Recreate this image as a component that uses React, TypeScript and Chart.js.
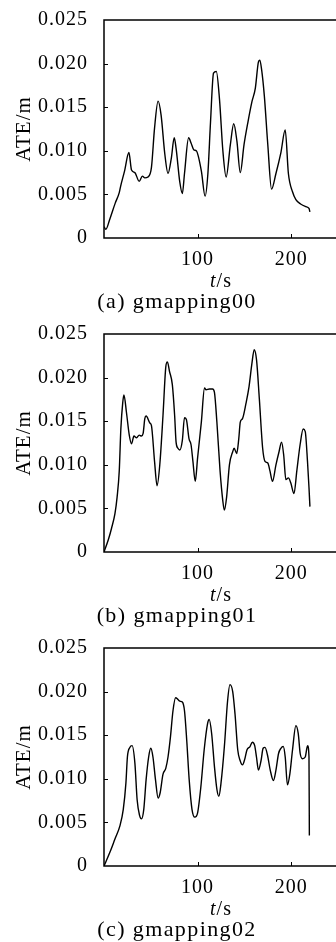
import React, { useEffect, useRef } from "react";
import { Chart, registerables } from "chart.js";

Chart.register(...registerables);

// ---------- data ----------
const T_A = [0, 2, 6, 12, 16.3, 17.7, 22, 26.6, 29.4, 33, 37.6, 41, 43.6, 47, 50.7, 54, 57.8, 61, 65, 68.4, 72, 75, 77, 81, 83.7, 86, 90.4, 93, 96, 98.6, 104, 108, 111, 113.8, 117, 120, 123.4, 127, 130.5, 135, 138.6, 142, 145.6, 149.6, 153.8, 158, 161.7, 165, 166.5, 168.4, 171.3, 175, 179, 183.7, 189, 193.6, 197, 201.4, 205, 210, 215.6, 219, 220];
const ATE_A = [0.0013, 0.001, 0.0021, 0.004, 0.0052, 0.0059, 0.0077, 0.0098, 0.0078, 0.0075, 0.0065, 0.0071, 0.0069, 0.007, 0.0081, 0.0126, 0.0157, 0.0141, 0.0096, 0.0074, 0.0092, 0.0115, 0.0103, 0.0064, 0.0051, 0.0074, 0.0115, 0.0109, 0.0101, 0.01, 0.0077, 0.0048, 0.0074, 0.0133, 0.0189, 0.0191, 0.0159, 0.01, 0.007, 0.0107, 0.0131, 0.0111, 0.0075, 0.0107, 0.0133, 0.0156, 0.0172, 0.0202, 0.0204, 0.0193, 0.0163, 0.0107, 0.0056, 0.0074, 0.0098, 0.0124, 0.0074, 0.0053, 0.0044, 0.0039, 0.0036, 0.0034, 0.003];

const T_B = [0, 4.6, 8, 11.7, 14, 16.3, 18, 20, 21.3, 24, 27, 29.4, 32, 34.8, 37.6, 40, 41.8, 43.6, 45, 49, 50.7, 54, 56.7, 59.6, 63, 66, 67.7, 70, 73, 75.5, 77, 79, 81, 83.7, 86, 88, 90.8, 93, 95, 97.5, 100, 104, 107.4, 109, 112.6, 116, 118, 120.6, 124, 126.9, 128.6, 131, 134, 137.5, 139, 141.8, 144, 145.6, 148, 151.8, 155, 158, 160.5, 163, 166, 169.5, 172, 175, 177.3, 180, 183.7, 187, 189.7, 192, 194.3, 197, 199.6, 203, 206, 209.5, 212.8, 215, 217.4, 219, 220];
const ATE_B = [0, 0.0014, 0.0027, 0.0044, 0.0063, 0.0093, 0.0141, 0.0171, 0.018, 0.016, 0.0134, 0.0124, 0.0133, 0.0131, 0.0134, 0.0133, 0.0136, 0.0153, 0.0156, 0.0148, 0.0145, 0.0104, 0.0076, 0.01, 0.0156, 0.0212, 0.0218, 0.0207, 0.0192, 0.0156, 0.0126, 0.0119, 0.0117, 0.0128, 0.0154, 0.0152, 0.013, 0.0123, 0.0104, 0.0081, 0.0108, 0.0149, 0.0188, 0.0186, 0.0187, 0.0187, 0.0183, 0.0149, 0.0093, 0.0059, 0.0048, 0.0063, 0.01, 0.0115, 0.0119, 0.0113, 0.013, 0.0149, 0.0153, 0.0171, 0.019, 0.0216, 0.0232, 0.022, 0.0175, 0.0119, 0.0104, 0.0102, 0.0093, 0.0081, 0.01, 0.0115, 0.0126, 0.0111, 0.0083, 0.0085, 0.0079, 0.0067, 0.0093, 0.0123, 0.0141, 0.0138, 0.0104, 0.0074, 0.0052];

const T_C = [0, 6.4, 11.7, 17, 20.6, 23.4, 25, 27.6, 30, 33, 35.4, 38, 40, 42.5, 45, 47.7, 50, 52.3, 55, 57.8, 60, 63, 66, 68.4, 71, 73.7, 76.5, 79, 81, 83.7, 86, 88.4, 91, 94, 97, 100, 103.5, 107, 110.6, 112.4, 115, 118, 120.6, 122.7, 125, 128.6, 132, 134.6, 137.5, 140, 142.9, 145.4, 148, 150.5, 152.7, 156, 158.5, 161, 162.9, 165, 167.8, 170, 172, 174.7, 177.6, 181, 183.7, 186.5, 189, 191.5, 193.6, 196, 198.6, 201.4, 205, 207.5, 209.6, 212, 215, 217.5, 219, 219.4];
const ATE_C = [0, 0.0016, 0.0031, 0.0046, 0.0065, 0.0095, 0.0125, 0.0136, 0.0138, 0.0118, 0.0076, 0.0058, 0.0054, 0.0065, 0.0099, 0.0125, 0.0135, 0.0125, 0.0099, 0.0078, 0.0084, 0.0105, 0.0112, 0.0125, 0.0148, 0.0178, 0.0193, 0.0191, 0.0189, 0.0188, 0.0178, 0.0144, 0.0099, 0.0065, 0.0056, 0.0061, 0.0091, 0.0133, 0.0163, 0.0168, 0.0152, 0.0114, 0.0088, 0.008, 0.0095, 0.0137, 0.0189, 0.0208, 0.02, 0.0174, 0.0133, 0.0121, 0.0116, 0.0123, 0.0133, 0.0137, 0.0142, 0.0138, 0.0125, 0.011, 0.0121, 0.0135, 0.0136, 0.0127, 0.011, 0.0098, 0.011, 0.0129, 0.0135, 0.0137, 0.0125, 0.0093, 0.0106, 0.0133, 0.0161, 0.0152, 0.0129, 0.0123, 0.0125, 0.0138, 0.0125, 0.0035];

const X_TICKS = [100, 200];
const Y_TICKS = [0, 0.005, 0.01, 0.015, 0.02, 0.025];
const X_MAX = 250;
const Y_MAX = 0.025;
const Y_TITLE = "ATE/m";
const CAPTIONS = ["(a) gmapping00", "(b) gmapping01", "(c) gmapping02"];

const PANELS = [
  { t: T_A, v: ATE_A, caption: CAPTIONS[0] },
  { t: T_B, v: ATE_B, caption: CAPTIONS[1] },
  { t: T_C, v: ATE_C, caption: CAPTIONS[2] },
];

const FONT = "'Liberation Serif', 'Times New Roman', serif";
const CANVAS_W = 340;
const CANVAS_H = 310;
const PLOT_LEFT = 104;
const PLOT_BOTTOM = 238;

const framePlugin = {
  id: "frame",
  beforeLayout(chart: any) {
    chart.ctx.letterSpacing = "1px";
  },
  beforeDraw(chart: any) {
    chart.ctx.letterSpacing = "1px";
  },
  afterDraw(chart: any) {
    const { ctx, chartArea, scales } = chart;
    const { left, top, right, bottom } = chartArea;
    ctx.save();
    ctx.strokeStyle = "#000";
    ctx.lineWidth = 1.5;
    ctx.strokeRect(left, top, right - left, bottom - top);
    ctx.lineWidth = 1;
    ctx.beginPath();
    X_TICKS.forEach((v) => {
      const px = Math.round(scales.x.getPixelForValue(v)) + 0.5;
      ctx.moveTo(px, bottom);
      ctx.lineTo(px, bottom - 4);
    });
    Y_TICKS.forEach((v) => {
      if (v === 0 || v === Y_MAX) return;
      const py = Math.round(scales.y.getPixelForValue(v)) + 0.5;
      ctx.moveTo(left, py);
      ctx.lineTo(left + 4, py);
    });
    ctx.stroke();
    ctx.restore();
  },
};

function Panel({ t, v, caption, top }: { t: number[]; v: number[]; caption: string; top: number }) {
  const ref = useRef<HTMLCanvasElement | null>(null);
  useEffect(() => {
    if (!ref.current) return;
    const data = t.map((x, i) => ({ x, y: v[i] }));
    const chart = new Chart(ref.current, {
      type: "line",
      data: {
        datasets: [
          {
            data,
            borderColor: "#000",
            borderWidth: 1.4,
            pointRadius: 0,
            fill: false,
            cubicInterpolationMode: "monotone",
          },
        ],
      },
      options: {
        animation: false,
        responsive: false,
        devicePixelRatio: 1,
        layout: { padding: { left: 0, right: 2, top: 16, bottom: 0 } },
        plugins: { legend: { display: false }, tooltip: { enabled: false } },
        scales: {
          x: {
            type: "linear",
            min: 0,
            max: X_MAX,
            grid: { display: false },
            border: { display: false },
            afterBuildTicks: (s: any) => {
              s.ticks = X_TICKS.map((value) => ({ value }));
            },
            afterFit: (s: any) => {
              s.height = CANVAS_H - PLOT_BOTTOM;
            },
            ticks: {
              color: "#000",
              font: { family: FONT, size: 20 },
              padding: 2,
              maxRotation: 0,
              autoSkip: false,
              callback: (val: any) => String(val),
            },
          },
          y: {
            type: "linear",
            min: 0,
            max: Y_MAX,
            grid: { display: false },
            border: { display: false },
            afterBuildTicks: (s: any) => {
              s.ticks = Y_TICKS.map((value) => ({ value }));
            },
            afterFit: (s: any) => {
              s.width = PLOT_LEFT;
            },
            ticks: {
              color: "#000",
              font: { family: FONT, size: 20 },
              padding: 8,
              autoSkip: false,
              callback: (val: any) => (val === 0 ? "0" : Number(val).toFixed(3)),
            },
            title: {
              display: true,
              text: Y_TITLE,
              color: "#000",
              font: { family: FONT, size: 21 },
              padding: { top: 12, bottom: 0 },
            },
          },
        },
      },
      plugins: [framePlugin],
    } as any);
    return () => chart.destroy();
  }, [t, v]);

  return (
    <div style={{ position: "absolute", left: 0, top, width: 336, height: 314 }}>
      <canvas ref={ref} width={CANVAS_W} height={CANVAS_H} style={{ position: "absolute", left: 0, top: 0 }} />
      <div
        style={{
          position: "absolute",
          left: 221,
          top: 280,
          transform: "translate(-50%, -50%)",
          fontFamily: FONT,
          fontSize: 20,
          letterSpacing: "1px",
          lineHeight: 1,
          whiteSpace: "nowrap",
          color: "#000",
        }}
      >
        <i>t</i>/s
      </div>
      <div
        style={{
          position: "absolute",
          left: 177,
          top: 301,
          transform: "translate(-50%, -50%)",
          fontFamily: FONT,
          fontSize: 22,
          letterSpacing: "1.4px",
          lineHeight: 1,
          whiteSpace: "nowrap",
          color: "#000",
        }}
      >
        {caption}
      </div>
    </div>
  );
}

export default function App() {
  return (
    <div
      style={{
        position: "absolute",
        left: 0,
        top: 0,
        width: 336,
        height: 942,
        overflow: "hidden",
        background: "#fff",
      }}
    >
      {PANELS.map((p, i) => (
        <Panel key={i} t={p.t} v={p.v} caption={p.caption} top={314 * i} />
      ))}
    </div>
  );
}
